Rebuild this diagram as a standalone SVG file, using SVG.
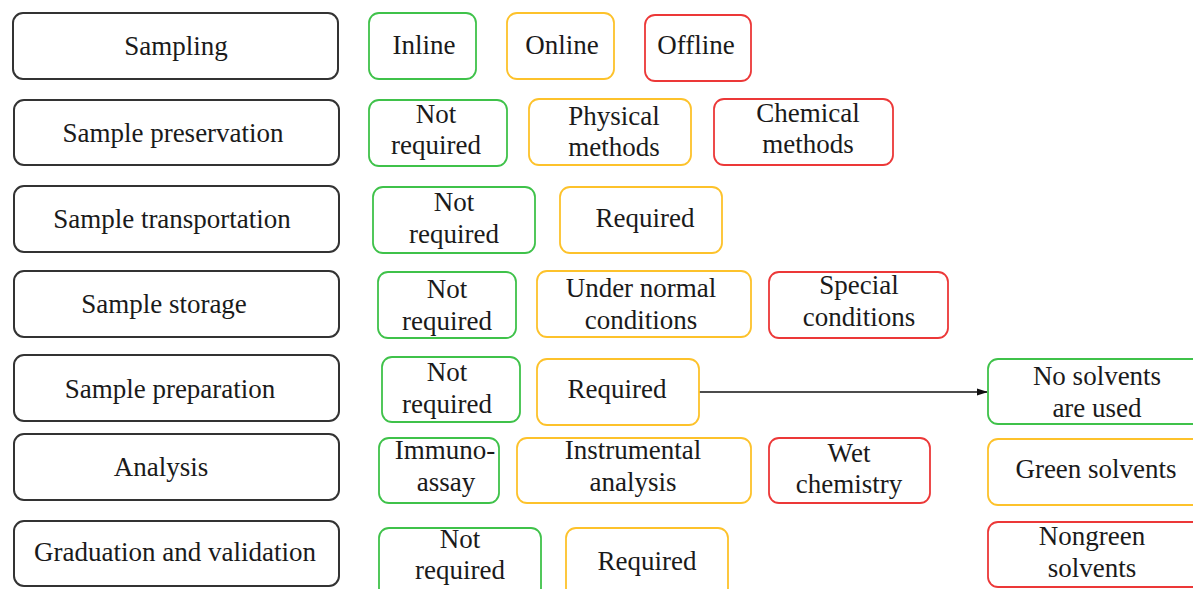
<svg xmlns="http://www.w3.org/2000/svg" width="1193" height="589" viewBox="0 0 1193 589">
<style>
text{font-family:"Liberation Serif","Times New Roman",serif;font-size:27px;fill:#1a1a1a;text-anchor:middle}
.k{fill:#fff;stroke:#333;stroke-width:2}
.g{fill:#fff;stroke:#3fc24a;stroke-width:1.8}
.y{fill:#fff;stroke:#fdc22b;stroke-width:1.8}
.r{fill:#fff;stroke:#ec3838;stroke-width:1.8}
</style>
<defs>
<marker id="ah" markerWidth="11" markerHeight="8" refX="10" refY="4" orient="auto" markerUnits="userSpaceOnUse">
<path d="M0,0.5 L11,4 L0,7.5 Z" fill="#111"/>
</marker>
</defs>
<rect width="1193" height="589" fill="#fff"/>
<g id="connectors">
<line x1="699" y1="392" x2="987" y2="392" stroke="#111" stroke-width="1.6" marker-end="url(#ah)"/>
</g>
<g id="stage-sampling"><rect class="k" x="13" y="13" width="325" height="66" rx="10"/><text x="176" y="55">Sampling</text></g>
<g id="stage-preservation"><rect class="k" x="14" y="100" width="325" height="65" rx="10"/><text x="173" y="142">Sample preservation</text></g>
<g id="stage-transportation"><rect class="k" x="14" y="186" width="325" height="66" rx="10"/><text x="172" y="228">Sample transportation</text></g>
<g id="stage-storage"><rect class="k" x="14" y="271" width="325" height="66" rx="10"/><text x="164" y="313">Sample storage</text></g>
<g id="stage-preparation"><rect class="k" x="14" y="355" width="325" height="66" rx="10"/><text x="170" y="398">Sample preparation</text></g>
<g id="stage-analysis"><rect class="k" x="14" y="434" width="325" height="66" rx="10"/><text x="161" y="476">Analysis</text></g>
<g id="stage-graduation"><rect class="k" x="14" y="521" width="325" height="65" rx="10"/><text x="175" y="561">Graduation and validation</text></g>

<g id="s-inline"><rect class="g" x="369" y="13" width="107" height="66" rx="10"/><text x="424" y="54">Inline</text></g>
<g id="s-online"><rect class="y" x="507" y="13" width="107" height="66" rx="10"/><text x="562" y="54">Online</text></g>
<g id="s-offline"><rect class="r" x="645" y="15" width="106" height="66" rx="10"/><text x="696" y="54">Offline</text></g>

<g id="p-notreq"><rect class="g" x="369" y="100" width="138" height="66" rx="10"/><text x="436" y="123">Not</text><text x="436" y="154">required</text></g>
<g id="p-physical"><rect class="y" x="529" y="99" width="162" height="66" rx="10"/><text x="614" y="125">Physical</text><text x="614" y="156">methods</text></g>
<g id="p-chemical"><rect class="r" x="714" y="99" width="179" height="66" rx="10"/><text x="808" y="122">Chemical</text><text x="808" y="153">methods</text></g>

<g id="t-notreq"><rect class="g" x="373" y="187" width="162" height="66" rx="10"/><text x="454" y="211">Not</text><text x="454" y="243">required</text></g>
<g id="t-req"><rect class="y" x="560" y="187" width="162" height="66" rx="10"/><text x="645" y="227">Required</text></g>

<g id="st-notreq"><rect class="g" x="378" y="272" width="138" height="66" rx="10"/><text x="447" y="298">Not</text><text x="447" y="330">required</text></g>
<g id="st-normal"><rect class="y" x="537" y="271" width="214" height="66" rx="10"/><text x="641" y="297">Under normal</text><text x="641" y="329">conditions</text></g>
<g id="st-special"><rect class="r" x="769" y="272" width="179" height="66" rx="10"/><text x="859" y="294">Special</text><text x="859" y="326">conditions</text></g>

<g id="pr-notreq"><rect class="g" x="382" y="357" width="138" height="65" rx="10"/><text x="447" y="381">Not</text><text x="447" y="413">required</text></g>
<g id="pr-req"><rect class="y" x="537" y="359" width="162" height="66" rx="10"/><text x="617" y="398">Required</text></g>

<g id="a-immuno"><rect class="g" x="379" y="438" width="120" height="65" rx="10"/><text x="445" y="459">Immuno-</text><text x="446" y="491">assay</text></g>
<g id="a-instrumental"><rect class="y" x="517" y="438" width="234" height="65" rx="10"/><text x="633" y="459">Instrumental</text><text x="633" y="491">analysis</text></g>
<g id="a-wet"><rect class="r" x="769" y="438" width="161" height="65" rx="10"/><text x="849" y="462">Wet</text><text x="849" y="493">chemistry</text></g>

<g id="g-notreq"><rect class="g" x="379" y="528" width="162" height="70" rx="10"/><text x="460" y="548">Not</text><text x="460" y="579">required</text></g>
<g id="g-req"><rect class="y" x="566" y="528" width="162" height="70" rx="10"/><text x="647" y="570">Required</text></g>

<g id="sol-none"><rect class="g" x="988" y="359" width="220" height="65" rx="10"/><text x="1097" y="385">No solvents</text><text x="1097" y="417">are used</text></g>
<g id="sol-green"><rect class="y" x="988" y="439" width="220" height="66" rx="10"/><text x="1096" y="478">Green solvents</text></g>
<g id="sol-nongreen"><rect class="r" x="988" y="522" width="220" height="65" rx="10"/><text x="1092" y="545">Nongreen</text><text x="1092" y="577">solvents</text></g>
</svg>
